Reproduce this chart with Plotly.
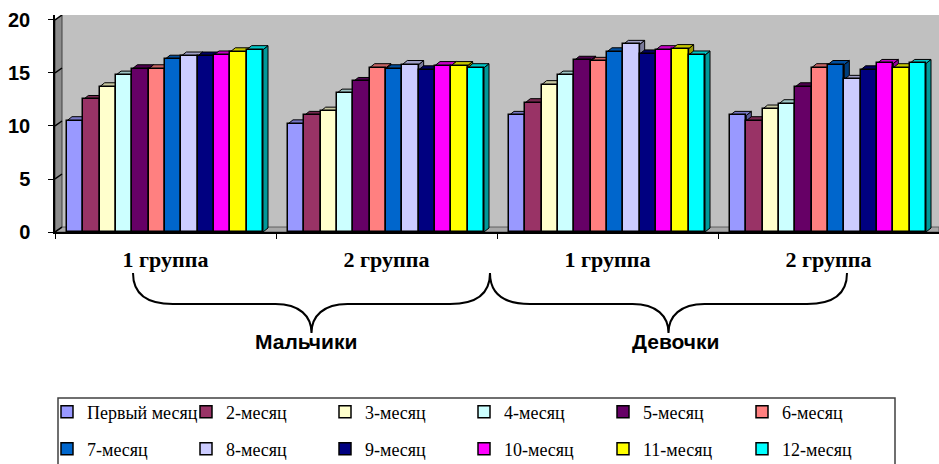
import plotly.graph_objects as go

# --- data -----------------------------------------------------------------
categories = ["1 группа", "2 группа", "1 группа", "2 группа"]
group_labels = ["Мальчики", "Девочки"]

series_names = ["Первый месяц", "2-месяц", "3-месяц", "4-месяц", "5-месяц", "6-месяц",
                "7-месяц", "8-месяц", "9-месяц", "10-месяц", "11-месяц", "12-месяц"]
series_colors = ["#9999FF", "#993366", "#FFFFCC", "#CCFFFF", "#660066", "#FF8080",
                 "#0066CC", "#CCCCFF", "#000080", "#FF00FF", "#FFFF00", "#00FFFF"]

boys_group1 = [10.5, 12.5, 13.7, 14.8, 15.4, 15.4, 16.3, 16.6, 16.6, 16.7, 17.0, 17.2]
boys_group2 = [10.2, 11.0, 11.4, 13.1, 14.2, 15.5, 15.4, 15.8, 15.3, 15.7, 15.7, 15.5]
girls_group1 = [11.0, 12.2, 13.9, 14.8, 16.2, 16.1, 17.0, 17.7, 16.8, 17.2, 17.3, 16.7]
girls_group2 = [11.0, 10.5, 11.6, 12.1, 13.7, 15.5, 15.8, 14.4, 15.3, 15.9, 15.5, 15.9]

y_ticks = [0, 5, 10, 15, 20]

# --- geometry ---------------------------------------------------------------
W, H = 939, 464
ML, MR, MT, MB = 55, 0, 15, 232
PW, PH = W - ML - MR, H - MT - MB
X_RANGE = [-0.5, 3.5]
Y_TOP = 20.47
Y_RANGE = [0, Y_TOP]

px_per_x = PW / (X_RANGE[1] - X_RANGE[0])
px_per_y = PH / (Y_RANGE[1] - Y_RANGE[0])

# oblique depth of the walls and of the bars (pseudo-3D look)
WALL_DX, WALL_DY = 7 / px_per_x, 0.47
BAR_DX, BAR_DY = 5 / px_per_x, 4 / px_per_y

GAP_LEFT = 12 / px_per_x
BAR_W = (1 - 25 / px_per_x) / len(series_names)


def xp(px):
    return (px - ML) / PW


def yp(py):
    return (H - MB - py) / PH


def shade(hex_color, k):
    h = hex_color.lstrip("#")
    r, g, b = (int(h[i:i + 2], 16) for i in (0, 2, 4))
    return "rgb(%d,%d,%d)" % (r * k, g * k, b * k)


rows = [boys_group1, boys_group2, girls_group1, girls_group2]
x_pos = list(range(len(categories)))

fig = go.Figure()
shapes = []

# floor and left side wall
shapes.append(dict(type="path", xref="x", yref="y", layer="between",
                   path=f"M{X_RANGE[0]},0 L{X_RANGE[1]},0 L{X_RANGE[1]},{WALL_DY} "
                        f"L{X_RANGE[0] + WALL_DX},{WALL_DY} Z",
                   fillcolor="#a8a8a8", line=dict(color="#606060", width=1)))
shapes.append(dict(type="path", xref="x", yref="y", layer="between",
                   path=f"M{X_RANGE[0]},0 L{X_RANGE[0] + WALL_DX},{WALL_DY} "
                        f"L{X_RANGE[0] + WALL_DX},{20 + WALL_DY} L{X_RANGE[0]},20 Z",
                   fillcolor="#8c8c8c", line=dict(color="#404040", width=1)))
shapes.append(dict(type="path", xref="x", yref="y", layer="between",
                   path=f"M{X_RANGE[0]},20 L{X_RANGE[0] + WALL_DX},{Y_TOP} "
                        f"L{X_RANGE[0]},{Y_TOP} Z",
                   fillcolor="white", line=dict(width=0)))
for t in y_ticks:
    shapes.append(dict(type="line", xref="x", yref="y", layer="between",
                       x0=X_RANGE[0], y0=t, x1=X_RANGE[0] + WALL_DX, y1=t + WALL_DY,
                       line=dict(color="black", width=1.5)))

# bars: front faces as traces, tops and right sides as shapes behind them
for j, (name, color) in enumerate(zip(series_names, series_colors)):
    vals = [row[j] for row in rows]
    offset = -0.5 + GAP_LEFT + j * BAR_W
    fig.add_trace(go.Bar(
        x=x_pos, y=vals, name=name, width=BAR_W, offset=offset,
        marker=dict(color=color, line=dict(color="black", width=1.5)),
        legend="legend" if j < 6 else "legend2",
        hovertemplate=name + ": %{y}<extra></extra>",
    ))
    for xc, v in zip(x_pos, vals):
        xl = xc + offset
        xr = xl + BAR_W
        shapes.append(dict(type="path", xref="x", yref="y", layer="between",
                           path=f"M{xr},0 L{xr + BAR_DX},{BAR_DY} L{xr + BAR_DX},{v + BAR_DY} "
                                f"L{xr},{v} Z",
                           fillcolor=shade(color, 0.6), line=dict(color="black", width=1)))
        shapes.append(dict(type="path", xref="x", yref="y", layer="between",
                           path=f"M{xl},{v} L{xl + BAR_DX},{v + BAR_DY} "
                                f"L{xr + BAR_DX},{v + BAR_DY} L{xr},{v} Z",
                           fillcolor=shade(color, 0.78), line=dict(color="black", width=1)))


# curly braces under the category labels
def brace_path(x0, x1, top, mid, tip):
    xm = (x0 + x1) / 2
    pts = [
        ("M", [(x0, top)]),
        ("C", [(x0, top + 20), (x0 + 12, mid), (x0 + 40, mid)]),
        ("L", [(xm - 36, mid)]),
        ("C", [(xm - 12, mid), (xm, mid + 12), (xm, tip)]),
        ("C", [(xm, mid + 12), (xm + 12, mid), (xm + 36, mid)]),
        ("L", [(x1 - 40, mid)]),
        ("C", [(x1 - 12, mid), (x1, top + 20), (x1, top)]),
    ]
    out = []
    for cmd, ps in pts:
        out.append(cmd + " ".join(f"{xp(a):.5f},{yp(b):.5f}" for a, b in ps))
    return " ".join(out)


brace_spans = [(133, 490), (490, 847)]
for (x0, x1), label in zip(brace_spans, group_labels):
    shapes.append(dict(type="path", xref="paper", yref="paper",
                       path=brace_path(x0, x1, 273, 304, 333),
                       line=dict(color="black", width=2)))

# legend frame
shapes.append(dict(type="rect", xref="paper", yref="paper",
                   x0=xp(58), x1=xp(895), y0=yp(398), y1=yp(480),
                   line=dict(color="#404040", width=1.5), fillcolor="rgba(0,0,0,0)"))

annotations = []
for (x0, x1), label, cx in zip(brace_spans, group_labels, [306, 675]):
    annotations.append(dict(xref="paper", yref="paper", x=xp(cx), y=yp(341),
                            text=label, showarrow=False, xanchor="center", yanchor="middle",
                            font=dict(family="Liberation Sans, Arial", size=21,
                                      color="black", weight="bold")))

legend_common = dict(
    orientation="h", xanchor="left", yanchor="middle", x=xp(59),
    font=dict(family="Liberation Serif, Times New Roman, serif", size=18, color="black"),
    entrywidth=106, entrywidthmode="pixels", indentation=-12,
    bgcolor="rgba(0,0,0,0)", borderwidth=0, traceorder="normal",
)

fig.update_layout(
    width=W, height=H, autosize=False,
    margin=dict(l=ML, r=MR, t=MT, b=MB, autoexpand=False),
    paper_bgcolor="white", plot_bgcolor="#c0c0c0",
    barmode="overlay", bargap=0,
    showlegend=True,
    legend=dict(y=yp(412), **legend_common),
    legend2=dict(y=yp(449), **legend_common),
    xaxis=dict(range=X_RANGE, tickvals=x_pos, ticktext=categories,
               showgrid=False, zeroline=False, showline=True, linecolor="black", linewidth=2,
               ticks="outside", ticklen=0, ticklabelstandoff=7,
               tickfont=dict(family="Liberation Serif, Times New Roman, serif", size=22,
                             color="black", weight="bold"),
               minor=dict(tick0=-0.5, dtick=1, ticks="outside", ticklen=5,
                          tickcolor="black", tickwidth=1, showgrid=False),
               fixedrange=True),
    yaxis=dict(range=Y_RANGE, tickvals=y_ticks, showgrid=False, zeroline=False,
               showline=True, linecolor="black", linewidth=1.5,
               ticks="outside", ticklen=5, tickcolor="black", ticklabelstandoff=14,
               tickfont=dict(family="Liberation Sans, Arial", size=20,
                             color="black", weight="bold"),
               fixedrange=True),
    yaxis2=dict(range=[-WALL_DY, Y_TOP - WALL_DY], overlaying="y", tickvals=y_ticks,
                showgrid=True, gridcolor="black", gridwidth=1.5, zeroline=False,
                showticklabels=False, ticks="", showline=False, fixedrange=True),
    shapes=shapes,
    annotations=annotations,
)

fig.write_html("out.html")
